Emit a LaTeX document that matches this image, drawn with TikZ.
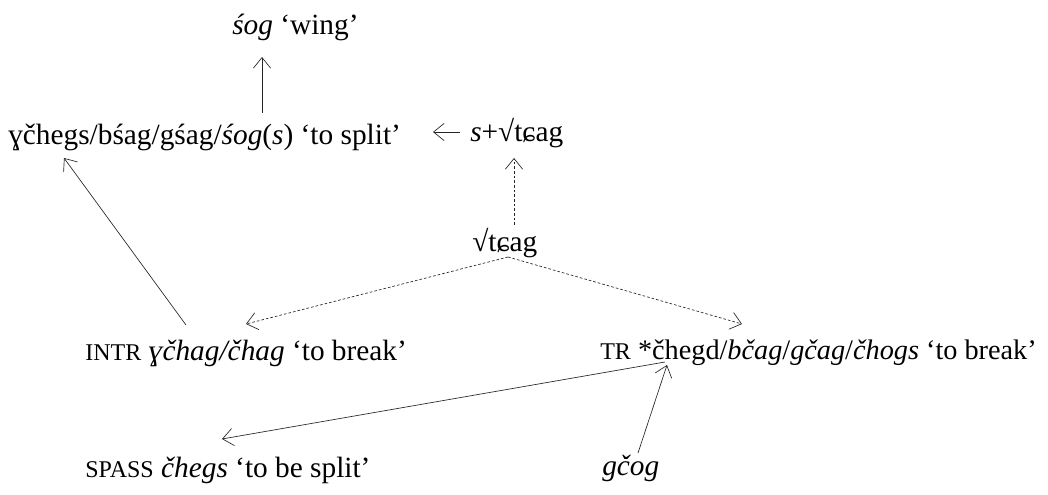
\documentclass[tikz,border=0pt]{standalone}
\usepackage{fontspec}
\setmainfont{Liberation Serif}
\usetikzlibrary{arrows.meta}
\newcommand\smcp[1]{{\fontsize{18}{20}\selectfont #1}}
\begin{document}
\begin{tikzpicture}[x=0.75pt,y=-0.75pt,
  lbl/.style={anchor=base west,inner sep=0pt,font=\fontsize{22}{26}\selectfont},
  arr/.style={draw=black!85,line width=0.5pt,-{Straight Barb[length=8pt,width=13pt]}},
  darr/.style={arr,dash pattern=on 2pt off 1.5pt}]
\useasboundingbox (0,0) rectangle (1048,495);
\node[lbl] (wing) at (232,35) {\textit{śog} ‘wing’};
\node[lbl] (split) at (8,145) {ɣčhegs/bśag/gśag/\textit{śog}(\textit{s}) ‘to split’};
\node[lbl] (sroot) at (470,142) {\textit{s}+√tɕag};
\node[lbl] (root) at (472,252) {√tɕag};
\node[lbl] (intr) at (85,360) {\smcp{INTR} \textit{ɣčhag/čhag} ‘to break’};
\node[lbl,font=\fontsize{21.2}{26}\selectfont] (tr) at (600,359) {\smcp{TR} *čhegd/\textit{bčag}/\textit{gčag}/\textit{čhogs} ‘to break’};
\node[lbl] (spass) at (85,477) {\smcp{SPASS} \textit{čhegs} ‘to be split’};
\node[lbl] (gcog) at (602,475) {\textit{gčog}};
% connector end points
\coordinate (splitTop) at (262,113);
\coordinate (wingBot) at (262,57);
\coordinate (srootL) at (460,132);
\coordinate (splitR) at (433,132);
\coordinate (rootTop) at (514,225);
\coordinate (srootBot) at (514,158);
\coordinate (rootBot) at (508,257);
\coordinate (intrTopR) at (246,324);
\coordinate (trTopL) at (742,324);
\coordinate (intrTopL) at (186,325);
\coordinate (splitBotL) at (64,158);
\coordinate (trC) at (665,362);
\coordinate (spassTop) at (222,439);
\coordinate (gcogTop) at (638,453);
\coordinate (trC2) at (667,365);
\draw[arr] (splitTop) -- (wingBot);
\draw[arr] (srootL) -- (splitR);
\draw[darr] (rootTop) -- (srootBot);
\draw[darr] (rootBot) -- (intrTopR);
\draw[darr] (rootBot) -- (trTopL);
\draw[arr] (intrTopL) -- (splitBotL);
\draw[arr] (trC) -- (spassTop);
\draw[arr] (gcogTop) -- (trC2);
\end{tikzpicture}
\end{document}
